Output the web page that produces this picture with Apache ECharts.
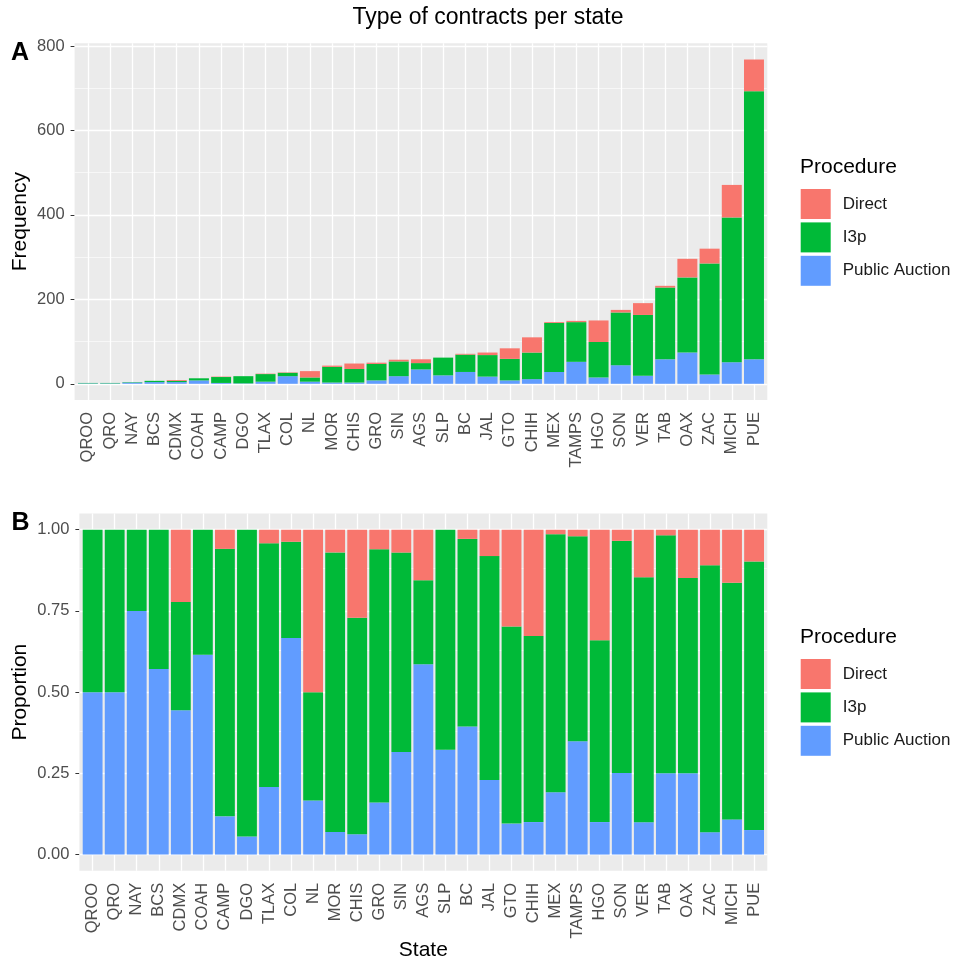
<!DOCTYPE html>
<html>
<head>
<meta charset="utf-8">
<script src="https://cdn.jsdelivr.net/npm/echarts@6/dist/echarts.min.js"></script>
<style>
  html, body { margin: 0; padding: 0; background: #ffffff; }
  #chart { width: 954px; height: 962px; }
</style>
</head>
<body>
<div id="chart"></div>
<script>
// Contracts per state, ordered by total count
const states = ['QROO', 'QRO', 'NAY', 'BCS', 'CDMX', 'COAH', 'CAMP', 'DGO', 'TLAX', 'COL',
  'NL', 'MOR', 'CHIS', 'GRO', 'SIN', 'AGS', 'SLP', 'BC', 'JAL', 'GTO',
  'CHIH', 'MEX', 'TAMPS', 'HGO', 'SON', 'VER', 'TAB', 'OAX', 'ZAC', 'MICH', 'PUE'];

// Number of contracts by procedure
const publicAuction = [1, 1, 3, 4, 4, 8, 2, 1, 5, 18,
  5, 3, 3, 8, 18, 34, 20, 28, 17, 8,
  11, 28, 52, 15, 44, 19, 58, 74, 22, 51, 58];
const i3p = [1, 1, 1, 3, 3, 5, 14, 17, 18, 8,
  10, 37, 32, 39, 35, 15, 42, 41, 51, 51,
  63, 116, 94, 84, 125, 144, 170, 178, 263, 343, 635];
const direct = [0, 0, 0, 0, 2, 0, 1, 0, 1, 1,
  15, 3, 13, 3, 4, 9, 0, 2, 6, 25,
  36, 2, 3, 51, 6, 28, 4, 44, 35, 77, 75];

const procedures = ['Direct', 'I3p', 'Public Auction'];
const procColors = { 'Direct': '#F8766D', 'I3p': '#00BA38', 'Public Auction': '#619CFF' };

const freqTicks = [0, 200, 400, 600, 800];
const freqMinor = [100, 300, 500, 700];
const propTicks = [0, 0.25, 0.5, 0.75, 1];
const propMinor = [0.125, 0.375, 0.625, 0.875];

// ---- derived values ----
const totals = states.map((_, i) => publicAuction[i] + i3p[i] + direct[i]);
const share = arr => arr.map((v, i) => v / totals[i]);
const counts = { 'Direct': direct, 'I3p': i3p, 'Public Auction': publicAuction };
const shares = { 'Direct': share(direct), 'I3p': share(i3p), 'Public Auction': share(publicAuction) };

const fMax = Math.max(...totals);
const freqRange = [-0.05 * fMax, 1.05 * fMax];
const propRange = [-0.05, 1.05];

// panel rectangles
const panelA = { left: 74.6, top: 43.3, width: 692.7, height: 356.7 };
const panelB = { left: 79.4, top: 513.5, width: 687.9, height: 357.3 };
function dataRect(p) {
  const unit = p.width / (states.length + 0.2);
  return { left: p.left + 0.1 * unit, top: p.top, width: states.length * unit, height: p.height };
}

const FONT = "'Liberation Sans', Arial, sans-serif";
const tickLabel = { fontSize: 16.5, color: '#4D4D4D', fontFamily: FONT };

function gridLines(major, minor) {
  return {
    silent: true, z: 1, symbol: ['none', 'none'], label: { show: false },
    emphasis: { disabled: true },
    data: major.map(v => ({ yAxis: v, lineStyle: { color: '#FFFFFF', width: 1.3, type: 'solid' } }))
      .concat(minor.map(v => ({ yAxis: v, lineStyle: { color: '#FFFFFF', width: 0.6, type: 'solid' } })))
  };
}
function verticalLines() {
  return {
    silent: true, z: 1, symbol: ['none', 'none'], label: { show: false },
    emphasis: { disabled: true },
    data: states.map(s => ({ xAxis: s, lineStyle: { color: '#FFFFFF', width: 1.3, type: 'solid' } }))
  };
}

const stackOrder = ['Public Auction', 'I3p', 'Direct'];
function barSeries(source, stack, xi, yi) {
  return stackOrder.map(name => ({
    name, type: 'bar', stack, xAxisIndex: xi, yAxisIndex: yi,
    data: source[name], barWidth: '90%',
    itemStyle: { color: procColors[name] },
    emphasis: { disabled: true }
  }));
}

function categoryAxis(gi) {
  return {
    gridIndex: gi, type: 'category', data: states,
    axisLine: { show: false },
    axisTick: { show: true, alignWithLabel: true, length: 4, lineStyle: { color: '#333333', width: 1 } },
    axisLabel: Object.assign({ rotate: 90, margin: 12, interval: 0 }, tickLabel),
    splitLine: { show: false }
  };
}
function hiddenValueAxis(gi, range) {
  return { gridIndex: gi, type: 'value', min: range[0], max: range[1], show: false, splitLine: { show: false } };
}
function labelledValueAxis(gi, range, ticks, fmt) {
  return {
    gridIndex: gi, type: 'value', min: range[0], max: range[1],
    axisLine: { show: false },
    axisTick: { show: true, length: 4, customValues: ticks, lineStyle: { color: '#333333', width: 1 } },
    axisLabel: Object.assign({ customValues: ticks, margin: 10, formatter: fmt }, tickLabel),
    splitLine: { show: false }, minorSplitLine: { show: false }
  };
}

function legendAt(top) {
  return {
    orient: 'vertical', left: 800.7, top, padding: 0,
    itemWidth: 30, itemHeight: 30, itemGap: 3.4,
    icon: 'rect', data: procedures, selectedMode: false,
    textStyle: { fontSize: 17, color: '#1A1A1A', fontFamily: FONT, padding: [0, 0, 0, 7] }
  };
}

function text(x, y, str, opts) {
  return Object.assign({
    type: 'text', x, y, silent: true,
    style: Object.assign({ text: str, fill: '#000000', fontFamily: FONT, fontSize: 21,
      textAlign: 'center', textVerticalAlign: 'middle' }, opts.style || {})
  }, opts.el || {});
}

const chart = echarts.init(document.getElementById('chart'), null, { renderer: 'canvas' });
chart.setOption({
  animation: false,
  backgroundColor: '#FFFFFF',
  textStyle: { fontFamily: FONT },
  grid: [
    Object.assign({ show: true, backgroundColor: '#EBEBEB', borderWidth: 0 }, panelA),
    Object.assign({ show: false }, dataRect(panelA)),
    Object.assign({ show: true, backgroundColor: '#EBEBEB', borderWidth: 0 }, panelB),
    Object.assign({ show: false }, dataRect(panelB))
  ],
  xAxis: [
    { gridIndex: 0, type: 'value', min: 0, max: 1, show: false, splitLine: { show: false } },
    categoryAxis(1),
    { gridIndex: 2, type: 'value', min: 0, max: 1, show: false, splitLine: { show: false } },
    categoryAxis(3)
  ],
  yAxis: [
    labelledValueAxis(0, freqRange, freqTicks, v => String(v)),
    hiddenValueAxis(1, freqRange),
    labelledValueAxis(2, propRange, propTicks, v => v.toFixed(2)),
    hiddenValueAxis(3, propRange)
  ],
  legend: [legendAt(189), legendAt(659)],
  series: [
    { type: 'line', xAxisIndex: 0, yAxisIndex: 0, data: [], silent: true, markLine: gridLines(freqTicks, freqMinor) },
    { type: 'line', xAxisIndex: 1, yAxisIndex: 1, data: [], silent: true, markLine: verticalLines() },
    { type: 'line', xAxisIndex: 2, yAxisIndex: 2, data: [], silent: true, markLine: gridLines(propTicks, propMinor) },
    { type: 'line', xAxisIndex: 3, yAxisIndex: 3, data: [], silent: true, markLine: verticalLines() }
  ].concat(barSeries(counts, 'freq', 1, 1), barSeries(shares, 'prop', 3, 3)),
  graphic: [
    text(488, 18, 'Type of contracts per state', { style: { fontSize: 23 } }),
    text(20, 53, 'A', { style: { fontSize: 25, fontWeight: 'bold' } }),
    text(20.5, 523, 'B', { style: { fontSize: 25, fontWeight: 'bold' } }),
    text(20, panelA.top + panelA.height / 2, 'Frequency', { el: { rotation: Math.PI / 2 } }),
    text(20, panelB.top + panelB.height / 2, 'Proportion', { el: { rotation: Math.PI / 2 } }),
    text(panelB.left + panelB.width / 2, 950, 'State', {}),
    text(800, 167, 'Procedure', { style: { textAlign: 'left' } }),
    text(800, 637, 'Procedure', { style: { textAlign: 'left' } })
  ]
});
</script>
</body>
</html>
